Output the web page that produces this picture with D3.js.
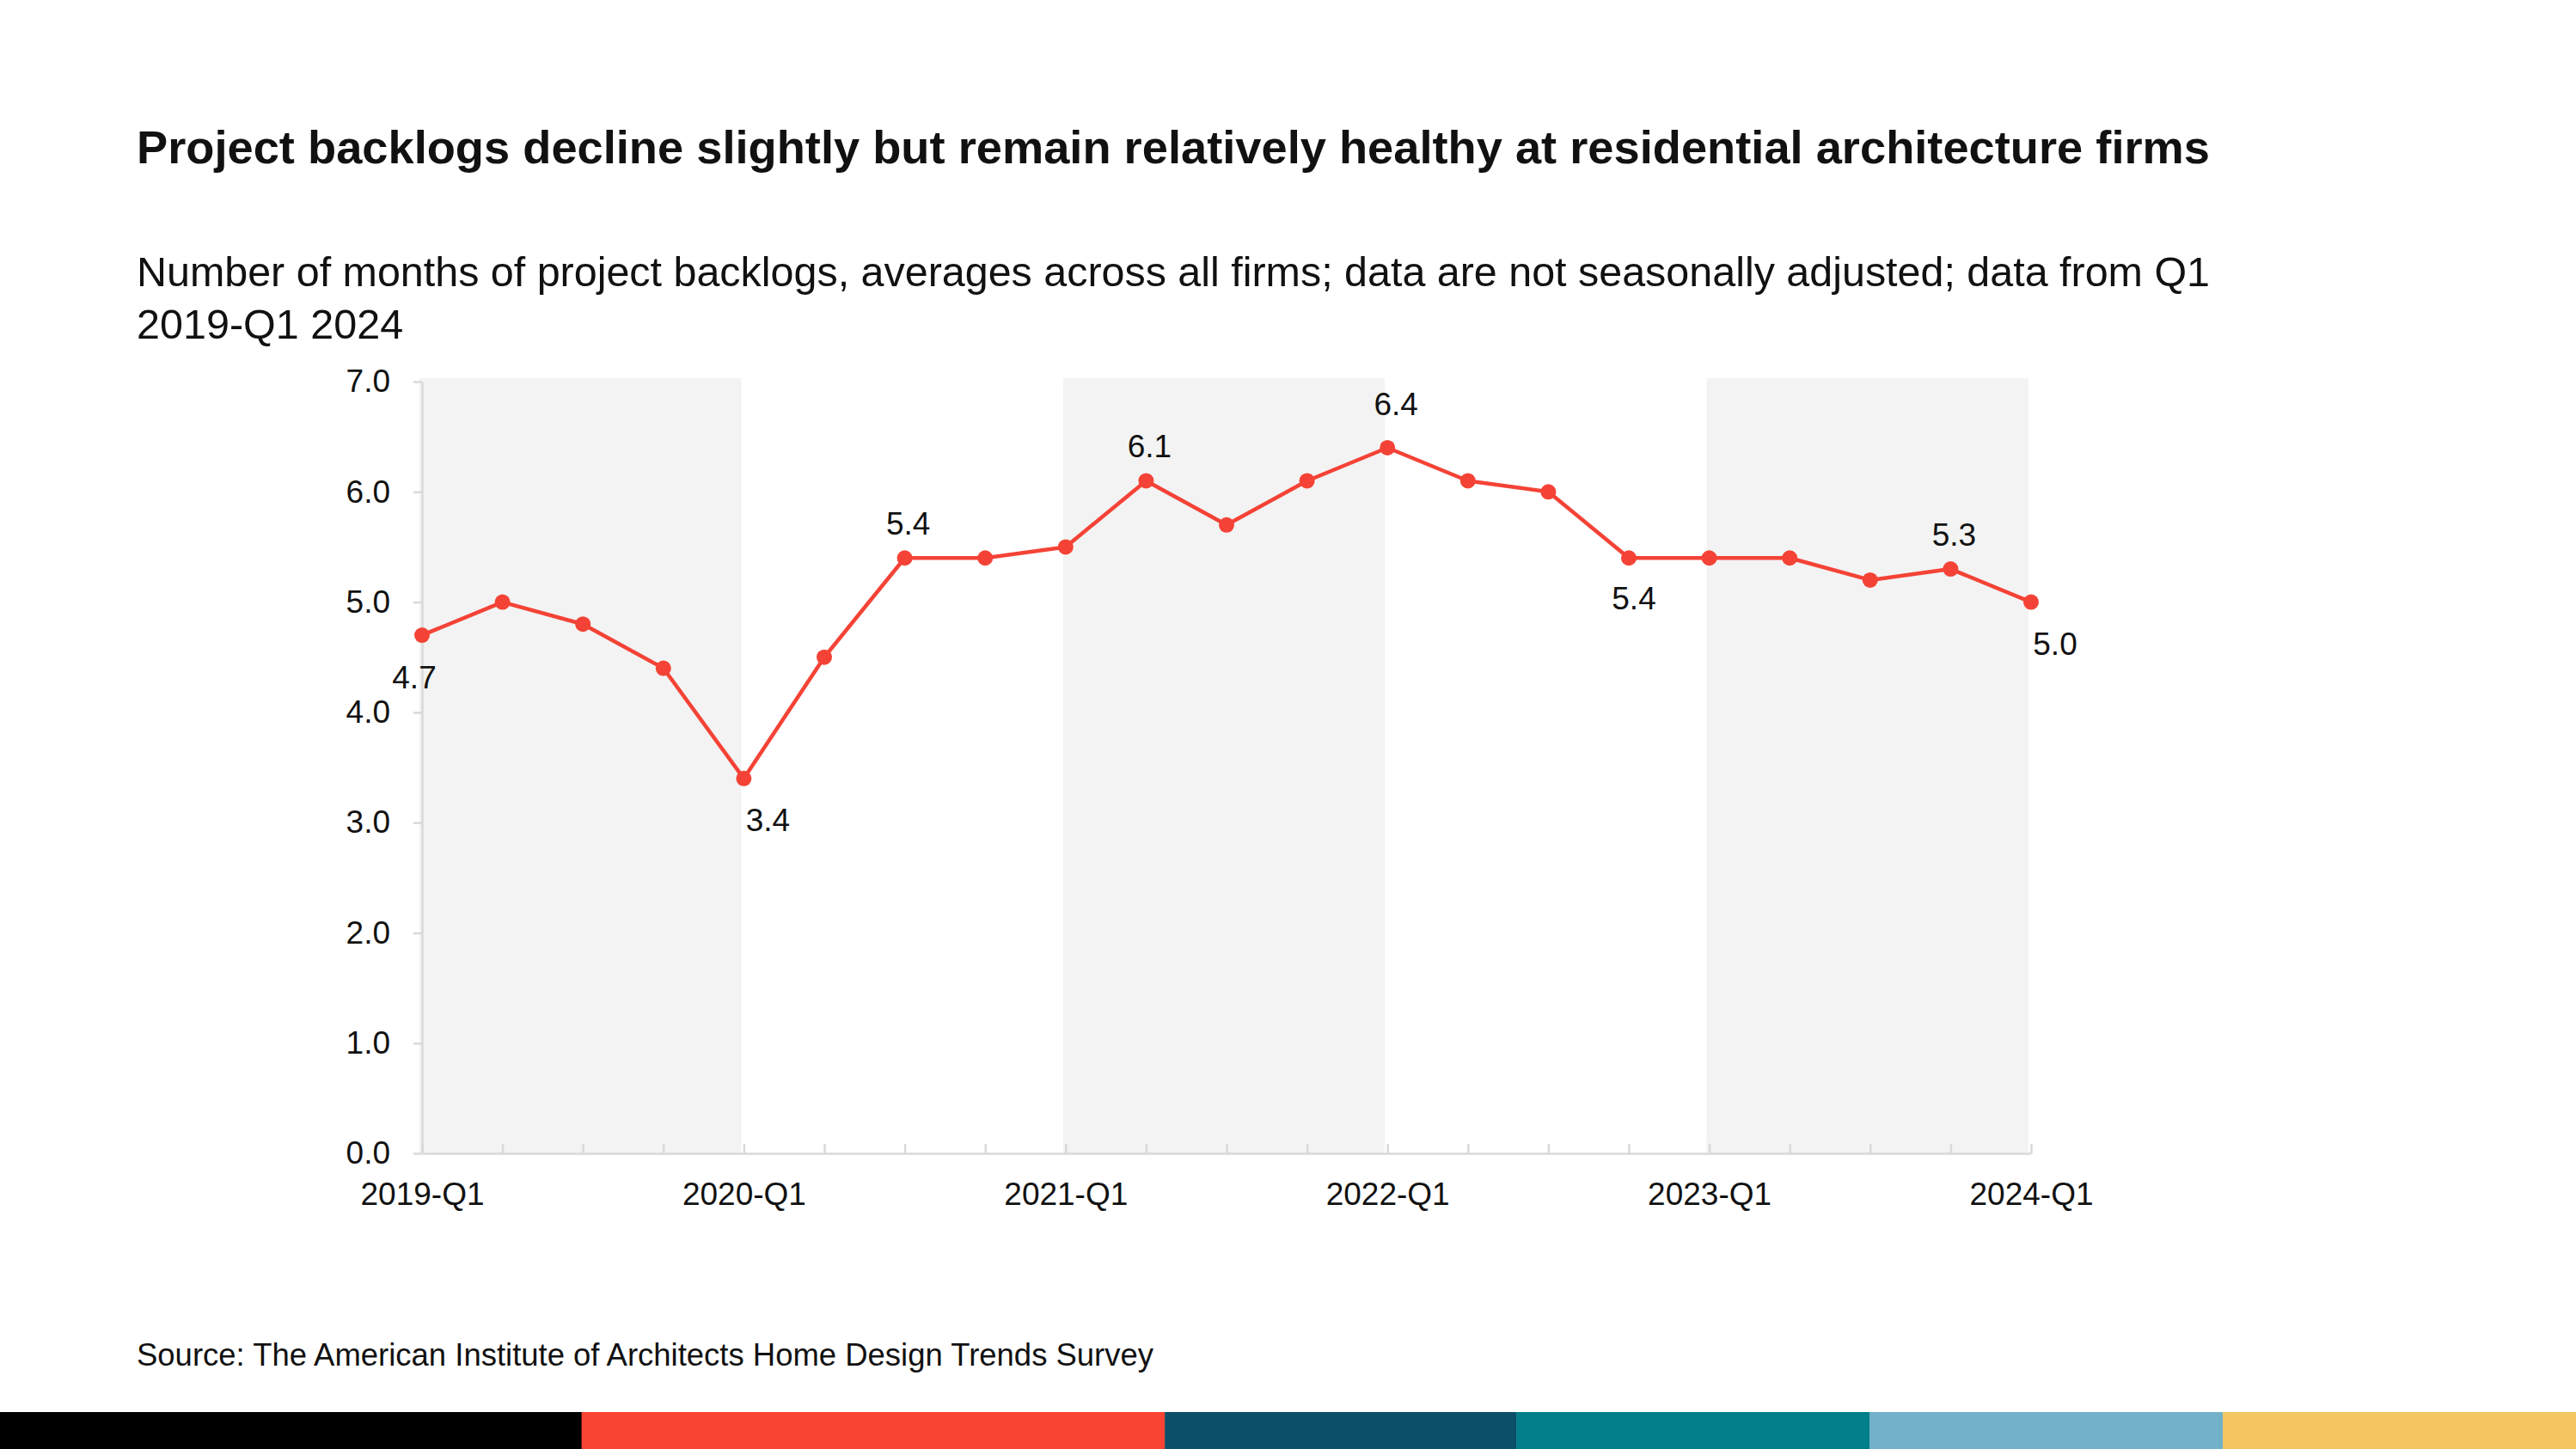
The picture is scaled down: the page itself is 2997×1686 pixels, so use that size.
<!DOCTYPE html>
<html>
<head>
<meta charset="utf-8">
<script src="https://cdn.jsdelivr.net/npm/d3@7"></script>
<style>
  html, body { margin: 0; padding: 0; background: #ffffff; }
  svg { display: block; }
  text { font-family: "Liberation Sans", Arial, sans-serif; fill: #111; }
</style>
</head>
<body>
<svg id="chart" width="2997" height="1686"></svg>
<script>
// ---------- data ----------
const quarters = [
  "2019-Q1","2019-Q2","2019-Q3","2019-Q4",
  "2020-Q1","2020-Q2","2020-Q3","2020-Q4",
  "2021-Q1","2021-Q2","2021-Q3","2021-Q4",
  "2022-Q1","2022-Q2","2022-Q3","2022-Q4",
  "2023-Q1","2023-Q2","2023-Q3","2023-Q4",
  "2024-Q1"
];
const backlogMonths = [
  4.7, 5.0, 4.8, 4.4,
  3.4, 4.5, 5.4, 5.4,
  5.5, 6.1, 5.7, 6.1,
  6.4, 6.1, 6.0, 5.4,
  5.4, 5.4, 5.2, 5.3,
  5.0
];
const xTickLabels = ["2019-Q1","2020-Q1","2021-Q1","2022-Q1","2023-Q1","2024-Q1"];
const yTickValues = [0,1,2,3,4,5,6,7];
const shadedPeriods = [["2019-Q1","2020-Q1"],["2021-Q1","2022-Q1"],["2023-Q1","2024-Q1"]];
const labelledQuarters = ["2019-Q1","2020-Q1","2020-Q3","2021-Q2","2022-Q1","2022-Q4","2023-Q4","2024-Q1"];
const labelPlacement   = ["below-left","below-right","above","above","above-high","below","above","below-right"];
const footerColors = ["#000000","#f94433","#0b4f68","#037f8c","#72b1c9","#f3c661"];
const footerShares = [354, 355, 214, 215, 215, 215];

const titleText = "Project backlogs decline slightly but remain relatively healthy at residential architecture firms";
const subtitleLines = ["Number of months of project backlogs, averages across all firms; data are not seasonally adjusted; data from Q1", "2019-Q1 2024"];
const sourceText = "Source: The American Institute of Architects Home Design Trends Survey";

// ---------- layout ----------
const W = 2997, H = 1686;
const svg = d3.select("#chart");
const plotLeft = 491, plotRight = 2363, plotTop = 444, plotBottom = 1342;

const x = d3.scalePoint().domain(quarters).range([plotLeft, plotRight]);
const y = d3.scaleLinear().domain([0, 7]).range([plotBottom, plotTop]);
const red = "#f44336";

// shaded bands
svg.append("g").selectAll("rect").data(shadedPeriods).join("rect")
  .attr("x", d => x(d[0]) - 3)
  .attr("y", plotTop - 4)
  .attr("width", d => x(d[1]) - x(d[0]))
  .attr("height", plotBottom - plotTop + 4)
  .attr("fill", "#f3f3f3");

// y axis
const yAxis = svg.append("g").attr("transform", `translate(${plotLeft},0)`)
  .call(d3.axisLeft(y).tickValues(yTickValues).tickFormat(d3.format(".1f")).tickSize(10).tickSizeOuter(0).tickPadding(27));
yAxis.select(".domain").attr("stroke", "#d9d9d9").attr("stroke-width", 2.5);
yAxis.selectAll(".tick line").attr("stroke", "#d9d9d9").attr("stroke-width", 2.5);
yAxis.selectAll(".tick text").style("font-size", "37px").style("font-family", "Liberation Sans, Arial, sans-serif").attr("fill", "#111");

// x axis
const xAxis = svg.append("g").attr("transform", `translate(0,${plotBottom})`)
  .call(d3.axisBottom(x).tickSize(-11).tickSizeOuter(0).tickPadding(34)
    .tickFormat(d => xTickLabels.includes(d) ? d : ""));
xAxis.select(".domain").attr("stroke", "#d9d9d9").attr("stroke-width", 2.5);
xAxis.selectAll(".tick line").attr("stroke", "#d9d9d9").attr("stroke-width", 2.5);
xAxis.selectAll(".tick text").style("font-size", "37px").style("font-family", "Liberation Sans, Arial, sans-serif").attr("fill", "#111");

// line
const pts = quarters.map((q, i) => ({q, v: backlogMonths[i]}));
svg.append("path").datum(pts)
  .attr("fill", "none").attr("stroke", red).attr("stroke-width", 4.5).attr("stroke-linejoin", "round")
  .attr("d", d3.line().x(d => x(d.q)).y(d => y(d.v)));
svg.append("g").selectAll("circle").data(pts).join("circle")
  .attr("cx", d => x(d.q)).attr("cy", d => y(d.v)).attr("r", 9).attr("fill", red);

// value labels
const offsets = {
  "above": {dx: 4, dy: -27},
  "above-high": {dx: 10, dy: -38},
  "below": {dx: 6, dy: 60},
  "below-left": {dx: -9, dy: 62},
  "below-right": {dx: 28, dy: 61}
};
svg.append("g").selectAll("text").data(labelledQuarters).join("text")
  .attr("x", (q, i) => x(q) + offsets[labelPlacement[i]].dx)
  .attr("y", (q, i) => y(backlogMonths[quarters.indexOf(q)]) + offsets[labelPlacement[i]].dy)
  .attr("text-anchor", "middle")
  .style("font-size", "37px")
  .text(q => d3.format(".1f")(backlogMonths[quarters.indexOf(q)]));

// title, subtitle, source
function fitText(sel, maxW) {
  const w = sel.node().getComputedTextLength();
  if (w > maxW) sel.attr("textLength", maxW).attr("lengthAdjust", "spacingAndGlyphs");
}
const title = svg.append("text").attr("x", 159).attr("y", 190)
  .style("font-size", "54.5px").style("font-weight", "700").text(titleText);
fitText(title, 2412);

subtitleLines.forEach((t, i) => {
  const s = svg.append("text").attr("x", 159).attr("y", 333 + i * 61)
    .style("font-size", "48.5px").text(t);
  if (i === 0) fitText(s, 2412);
});

const src = svg.append("text").attr("x", 159).attr("y", 1589)
  .style("font-size", "36.5px").text(sourceText);
fitText(src, 1183);

// footer colour bar
const total = d3.sum(footerShares);
const fx = d3.scaleLinear().domain([0, total]).range([0, W]);
let acc = 0;
const segs = footerShares.map((s, i) => { const o = {a: acc, b: acc + s, c: footerColors[i]}; acc += s; return o; });
svg.append("g").selectAll("rect").data(segs).join("rect")
  .attr("x", d => fx(d.a)).attr("y", 1643)
  .attr("width", d => fx(d.b) - fx(d.a) + 0.5).attr("height", H - 1643)
  .attr("fill", d => d.c);
</script>
</body>
</html>
